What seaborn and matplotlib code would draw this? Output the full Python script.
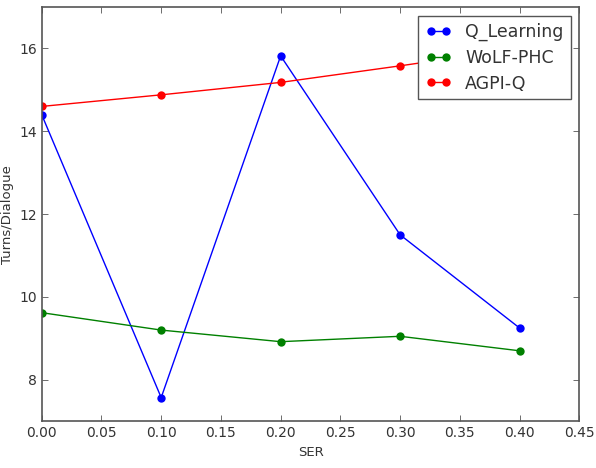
import numpy as np
import pandas as pd
import matplotlib
matplotlib.use("Agg")
import matplotlib.pyplot as plt
import seaborn as sns

ser = [0.0, 0.1, 0.2, 0.3, 0.4]
q_learning = [14.4, 7.57, 15.82, 11.5, 9.25]
wolf_phc = [9.62, 9.2, 8.92, 9.05, 8.7]
agpi_q = [14.6, 14.88, 15.18, 15.58, 16.0]

series = ["Q_Learning", "WoLF-PHC", "AGPI-Q"]
colors = ["#0000ff", "#008000", "#ff0000"]

df = pd.DataFrame({
    "SER": ser * 3,
    "Turns/Dialogue": q_learning + wolf_phc + agpi_q,
    "method": [s for s in series for _ in ser],
})

sns.set_style("ticks", {"xtick.direction": "in", "ytick.direction": "in",
                        "axes.edgecolor": "#555555"})
plt.rcParams["font.family"] = ["DejaVu Sans"]
plt.rcParams["text.color"] = "#333333"
plt.rcParams["xtick.color"] = "#555555"
plt.rcParams["ytick.color"] = "#555555"
plt.rcParams["xtick.labelcolor"] = "#333333"
plt.rcParams["ytick.labelcolor"] = "#333333"

fig, ax = plt.subplots(figsize=(5.96, 4.68), dpi=100)
sns.lineplot(data=df, x="SER", y="Turns/Dialogue", hue="method",
             palette=colors, marker="o", markersize=6, markeredgewidth=0,
             linewidth=1, ax=ax)

ax.set_xlim(0, 0.45)
ax.set_ylim(7, 17)
ax.set_xticks(np.arange(0, 0.451, 0.05))
ax.set_xticklabels([f"{v:.2f}" for v in np.arange(0, 0.451, 0.05)])
ax.set_yticks([8, 10, 12, 14, 16])
ax.tick_params(top=True, right=True, labelsize=10, length=4, width=0.6)
ax.set_xlabel("SER", fontsize=9.5, color="#333333")
ax.set_ylabel("Turns/Dialogue", fontsize=9.5, color="#333333")
for sp in ax.spines.values():
    sp.set_linewidth(1.2)

leg = ax.legend(loc="upper right", fontsize=12.5, numpoints=2, fancybox=False,
                framealpha=1, edgecolor="#555555", handlelength=1.5,
                handletextpad=0.8, borderaxespad=0.5, labelspacing=0.45)
leg.get_frame().set_linewidth(1.0)
for t in leg.get_texts():
    t.set_color("#333333")

fig.subplots_adjust(left=0.07, right=0.972, top=0.985, bottom=0.1)
fig.savefig("out.png", dpi=100)
